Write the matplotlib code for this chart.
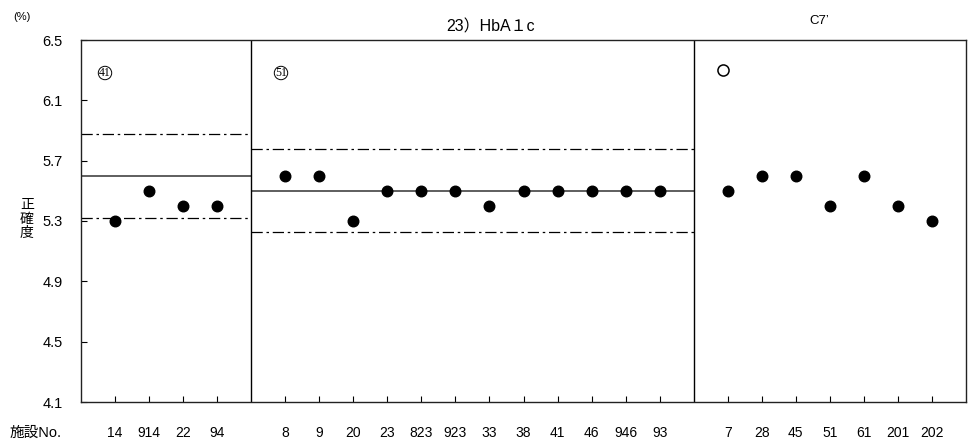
import matplotlib
matplotlib.use("Agg")
import matplotlib.pyplot as plt

plt.rcParams['font.family'] = ['Liberation Sans', 'Noto Sans CJK JP', 'DejaVu Sans']

# Facility groups (facility numbers and accuracy values, %)
group41_labels = ["14", "914", "22", "94"]
group41_values = [5.3, 5.5, 5.4, 5.4]
group41_target = 5.6

group51_labels = ["8", "9", "20", "23", "823", "923", "33", "38", "41", "46", "946", "93"]
group51_values = [5.6, 5.6, 5.3, 5.5, 5.5, 5.5, 5.4, 5.5, 5.5, 5.5, 5.5, 5.5]
group51_target = 5.5

groupC7_labels = ["7", "28", "45", "51", "61", "201", "202"]
groupC7_values = [5.5, 5.6, 5.6, 5.4, 5.6, 5.4, 5.3]
groupC7_open_value = 6.3     # open-circle result for facility 7

tolerance = 0.05             # ±5% limits around target
y_ticks = [4.1, 4.5, 4.9, 5.3, 5.7, 6.1, 6.5]

W, H = 968, 442
fig = plt.figure(figsize=(W / 100, H / 100), dpi=100)
ax = fig.add_axes([81 / W, (H - 402) / H, 885 / W, 362 / H])

# slot positions: group 41 at 1..4, divider 5, group 51 at 6..17, divider 18, C7' at 19..25
pos41 = list(range(1, 1 + len(group41_labels)))
div1 = pos41[-1] + 1
pos51 = list(range(div1 + 1, div1 + 1 + len(group51_labels)))
div2 = pos51[-1] + 1
posC7 = list(range(div2 + 1, div2 + 1 + len(groupC7_labels)))
x_end = posC7[-1] + 1

ax.set_xlim(0, x_end)
ax.set_ylim(y_ticks[0], y_ticks[-1])

dash_style = (0, (9, 3, 2, 3))
for (x0, x1, tgt) in [(0, div1, group41_target), (div1, div2, group51_target)]:
    ax.plot([x0, x1], [tgt, tgt], color="#333333", lw=1.1, solid_capstyle="butt")
    for lim in (tgt * (1 + tolerance), tgt * (1 - tolerance)):
        ax.plot([x0, x1], [lim, lim], color="black", lw=0.9, linestyle=dash_style)

for xd in (div1, div2):
    ax.axvline(xd, color="black", lw=1.0)

mk = dict(marker="o", linestyle="none", color="black", markersize=7.6)
ax.plot(pos41, group41_values, **mk)
ax.plot(pos51, group51_values, **mk)
ax.plot(posC7, groupC7_values, **mk)
ax.plot([posC7[0] - 0.13], [groupC7_open_value], marker="o", linestyle="none",
        markerfacecolor="white", markeredgecolor="black", markeredgewidth=1.1,
        markersize=8)

ax.set_xticks(pos41 + pos51 + posC7)
ax.set_xticklabels(group41_labels + group51_labels + groupC7_labels)
ax.set_yticks(y_ticks)
ax.set_yticklabels([f"{v:.1f}" for v in y_ticks])
ax.tick_params(axis="x", direction="in", length=4, width=0.8, pad=17, labelsize=10)
ax.tick_params(axis="y", direction="in", length=4, width=0.8, pad=13, labelsize=10.5)
for s in ax.spines.values():
    s.set_linewidth(1.0)
    s.set_color("#222222")

# circled group numbers
for xc, txt in [(105 / W, "41"), (281 / W, "51")]:
    fig.text(xc, 1 - 73 / H, txt, ha="center", va="center", fontsize=8.5,
             family="Liberation Serif",
             bbox=dict(boxstyle="circle,pad=0.06", fc="none", ec="black", lw=0.7))

fig.text(491 / W, 1 - 27 / H, "23）HbA１c", ha="center", va="center", fontsize=11.5)
fig.text(819 / W, 1 - 21 / H, "C7’", ha="center", va="center", fontsize=9.5)
fig.text(22 / W, 1 - 17 / H, "(%)", ha="center", va="center", fontsize=8)
for i, ch in enumerate("正確度"):
    fig.text(27 / W, 1 - (205 + 14 * i) / H, ch, ha="center", va="center",
             fontsize=10, family="Noto Sans CJK JP")
fig.text(10 / W, 1 - 433 / H, "施設No.", ha="left", va="center", fontsize=10.5)

fig.savefig("out.png", dpi=100)
